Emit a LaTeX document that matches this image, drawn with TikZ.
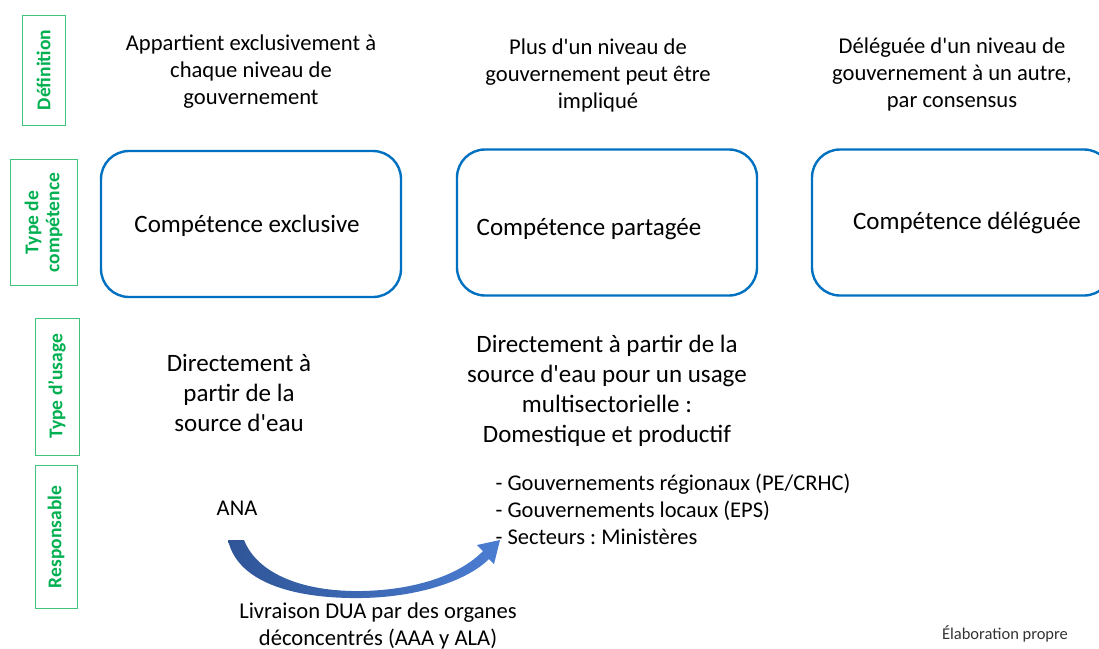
\documentclass[tikz,border=0pt]{standalone}
\usepackage{fontspec}
\setmainfont{Carlito}[Ligatures=TeXOff]
\usetikzlibrary{positioning}
\definecolor{compblue}{RGB}{0,112,192}
\definecolor{labgreen}{RGB}{0,176,80}
\definecolor{arrowdark}{RGB}{47,85,151}
\definecolor{arrowlight}{RGB}{75,125,210}
\frenchspacing

\begin{document}
\begin{tikzpicture}[x=1pt,y=-1pt,
  labelbox/.style={draw=labgreen!75,line width=1pt,text=labgreen,rotate=90,
    align=center,inner sep=0pt,font=\bfseries\fontsize{19.5}{21}\selectfont},
  compbox/.style={draw=compblue,line width=2.4pt,rounded corners=28pt,
    minimum width=300pt,minimum height=146pt},
  boxtext/.style={font=\fontsize{25}{28}\selectfont},
  deftext/.style={align=center,font=\fontsize{22.6}{27}\selectfont},
  usetext/.style={align=center,font=\fontsize{25}{30}\selectfont},
  resptext/.style={align=left,font=\fontsize{22.5}{27}\selectfont}]
  \useasboundingbox (0,0) rectangle (1099,648);

  % row labels
  \node[labelbox,minimum width=110pt,minimum height=43pt] (labdef) at (43.5,70) {Définition};
  \node[labelbox,minimum width=126pt,minimum height=67pt] (labcomp) at (43.5,222.5) {Type de\\compétence};
  \node[labelbox,minimum width=137pt,minimum height=44pt] (labuse) at (57,386.5) {Type d’usage};
  \node[labelbox,minimum width=143pt,minimum height=42pt] (labresp) at (56,537) {Responsable};

  % definitions
  \node[deftext] (def1) at (251,72) {Appartient exclusivement à\\chaque niveau de\\gouvernement};
  \node[deftext] (def2) at (598,75) {Plus d'un niveau de\\gouvernement peut être\\impliqué};
  \node[deftext] (def3) at (952,74) {Déléguée d'un niveau de\\gouvernement à un autre,\\par consensus};

  % types of competence
  \node[compbox] (comp1) at (251,224) {};
  \node[compbox] (comp2) at (607,222.5) {};
  \node[compbox] (comp3) at (962,222.5) {};
  \node[boxtext] (txt1) at (247,226) {Compétence exclusive};
  \node[boxtext] (txt2) at (589,229) {Compétence partagée};
  \node[boxtext] (txt3) at (967,223) {Compétence déléguée};

  % types of use
  \node[usetext] (use1) at (239,393) {Directement à\\partir de la\\source d'eau};
  \node[usetext] (use2) at (607,391) {Directement à partir de la\\source d'eau pour un usage\\multisectorielle :\\Domestique et productif};

  % responsible
  \node[resptext] (ana) at (237,508) {ANA};
  \node[resptext,anchor=west] (govs) at (492,509) {- Gouvernements régionaux (PE/CRHC)\\- Gouvernements locaux (EPS)\\- Secteurs : Ministères};

  % curved delivery arrow
  \shade[left color=arrowdark,right color=arrowlight]
    (228,540) .. controls (238,585) and (300,599) .. (362,598)
    .. controls (420,597) and (468,580) .. (489,559)
    -- (494,564) -- (500,540) -- (477,545) -- (483,551)
    .. controls (460,575) and (415,590) .. (362,591)
    .. controls (305,592) and (258,575) .. (244,540) -- cycle;
  \node[deftext] (deliv) at (378,626) {Livraison DUA par des organes\\déconcentrés (AAA y ALA)};

  \node[font=\fontsize{16.5}{18}\selectfont,text=black!80] (source) at (1005,634) {Élaboration propre};
\end{tikzpicture}
\end{document}
